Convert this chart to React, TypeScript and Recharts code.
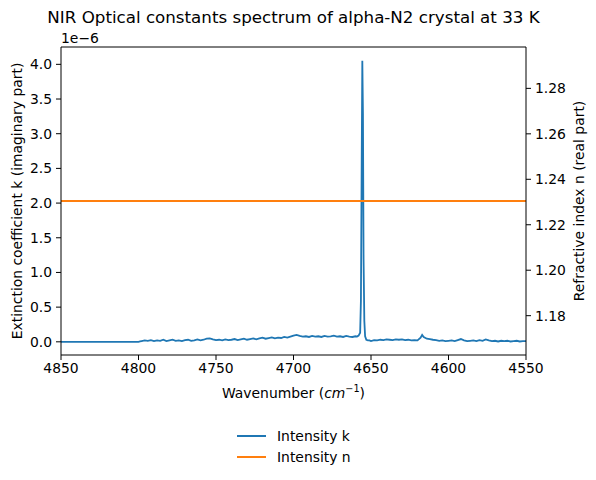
import React from 'react';
import { LineChart, Line, XAxis, YAxis, Legend, ReferenceLine } from 'recharts';

const FONT = '"DejaVu Sans", sans-serif';
const BLUE = '#1f77b4';
const ORANGE = '#ff7f0e';

const xTicks = [4850, 4800, 4750, 4700, 4650, 4600, 4550];
const kTicks = [0, 0.5, 1, 1.5, 2, 2.5, 3, 3.5, 4];
const nTicks = [1.18, 1.2, 1.22, 1.24, 1.26, 1.28];
const kDomain: [number, number] = [-0.19, 4.25];
const nDomain: [number, number] = [1.1627, 1.2982];

// [wavenumber, k (x1e-6)]
const kFlat: [number, number][] = [[4850, 0], [4800, 0], [4799, 0.005]];
const kBeforePeak: [number, number][] = [
  [4798, 0.01], [4796, 0.02], [4794, 0.015], [4792, 0.025], [4790, 0.01], [4788, 0.02],
  [4786, 0.015], [4784, 0.03], [4782, 0.01], [4780, 0.02], [4778, 0.03], [4776, 0.015],
  [4774, 0.02], [4772, 0.01], [4770, 0.025], [4768, 0.03], [4766, 0.015], [4764, 0.02],
  [4762, 0.035], [4760, 0.02], [4758, 0.03], [4756, 0.045], [4754, 0.05], [4752, 0.035],
  [4750, 0.025], [4748, 0.03], [4746, 0.02], [4744, 0.035], [4742, 0.025], [4740, 0.03],
  [4738, 0.04], [4736, 0.025], [4734, 0.035], [4732, 0.045], [4730, 0.03], [4728, 0.04],
  [4726, 0.05], [4724, 0.035], [4722, 0.05], [4720, 0.06], [4718, 0.045], [4716, 0.055],
  [4714, 0.065], [4712, 0.05], [4710, 0.06], [4708, 0.055], [4706, 0.07], [4704, 0.06],
  [4702, 0.075], [4700, 0.09], [4698, 0.1], [4696, 0.085], [4694, 0.075], [4692, 0.08],
  [4690, 0.07], [4688, 0.085], [4686, 0.075], [4684, 0.08], [4682, 0.07], [4680, 0.085],
  [4678, 0.075], [4676, 0.08], [4674, 0.09], [4672, 0.075], [4670, 0.08], [4668, 0.07],
  [4666, 0.085], [4664, 0.075], [4662, 0.07], [4660, 0.08], [4659, 0.075],
];
const kPeak: [number, number][] = [
  [4658, 0.09], [4657, 0.13], [4656.5, 0.6], [4656, 2.6], [4655.6, 4.05], [4655.2, 3.3],
  [4654.8, 1.2], [4654.3, 0.3], [4653.8, 0.08], [4653, 0.03],
];
const kAfterPeak: [number, number][] = [
  [4652, 0.02], [4651, 0.02], [4650, 0.01], [4648, 0.025], [4646, 0.02], [4644, 0.03],
  [4642, 0.025], [4640, 0.035], [4638, 0.03], [4636, 0.025], [4634, 0.035], [4632, 0.03],
  [4630, 0.035], [4628, 0.025], [4626, 0.03], [4624, 0.02], [4622, 0.025], [4620, 0.02],
  [4618, 0.06], [4617, 0.1], [4616, 0.07], [4614, 0.045], [4612, 0.04], [4610, 0.03],
  [4608, 0.025], [4606, 0.015], [4604, 0.02], [4602, 0.01], [4600, 0.015], [4598, 0.02],
  [4596, 0.01], [4594, 0.025], [4592, 0.04], [4590, 0.02], [4588, 0.01], [4586, 0.015],
  [4584, 0.02], [4582, 0.01], [4580, 0.025], [4578, 0.015], [4576, 0.035], [4574, 0.02],
  [4572, 0.01], [4570, 0.015], [4568, 0.005], [4566, 0.015], [4564, 0.01], [4562, 0.015],
  [4560, 0.005], [4558, 0.01], [4556, 0.015], [4554, 0.005], [4552, 0.01], [4550, 0.01],
];
// [wavenumber, n]
const nLevel: [number, number][] = [[4850, 1.2304], [4550, 1.2304]];

const kData = [...kFlat, ...kBeforePeak, ...kPeak, ...kAfterPeak].map(([x, k]) => ({ x, k }));
const nData = nLevel.map(([x, n]) => ({ x, n }));

const tickStyle = { fill: '#000', fontSize: 13.9, fontFamily: FONT };

const XLabel = () => (
  <text x={293.5} y={398} textAnchor="middle" fontSize={13.9} fontFamily={FONT} fill="#000">
    Wavenumber (<tspan fontStyle="italic">cm</tspan>
    <tspan dy={-6} fontSize={9.7}>−1</tspan>
    <tspan dy={6}>)</tspan>
  </text>
);

const LeftLabel = () => (
  <g>
    <text x={61} y={43} textAnchor="start" fontSize={13.9} fontFamily={FONT} fill="#000">1e−6</text>
    <text x={17} y={201} transform="rotate(-90 17 201)" textAnchor="middle" dominantBaseline="central"
      fontSize={13.9} fontFamily={FONT} fill="#000">
      Extinction coefficient k (imaginary part)
    </text>
  </g>
);

const RightLabel = () => (
  <text x={579} y={201} transform="rotate(-90 579 201)" textAnchor="middle" dominantBaseline="central"
    fontSize={13.9} fontFamily={FONT} fill="#000">
    Refractive index n (real part)
  </text>
);

const renderLegend = (props: any) => {
  const payload = props.payload || [];
  return (
    <svg width={140} height={44}>
      {payload.map((p: any, i: number) => (
        <g key={i}>
          <line x1={9} x2={38} y1={12 + i * 21} y2={12 + i * 21} stroke={p.color} strokeWidth={2} />
          <text x={49} y={12 + i * 21} dominantBaseline="central" fontSize={13.9} fontFamily={FONT} fill="#000">
            {p.value}
          </text>
        </g>
      ))}
    </svg>
  );
};

export default function App() {
  return (
    <div style={{ position: 'absolute', left: 0, top: 0, width: 596, height: 480, background: '#fff' }}>
      <div
        style={{
          position: 'absolute', left: 0, top: 7, width: 587, textAlign: 'center',
          fontFamily: FONT, fontSize: 16.7, color: '#000', lineHeight: '20px', whiteSpace: 'nowrap',
        }}
      >
        NIR Optical constants spectrum of alpha-N2 crystal at 33 K
      </div>
      <LineChart width={596} height={480} margin={{ top: 47, right: 0, bottom: 95, left: 0 }}>
        <XAxis
          type="number"
          dataKey="x"
          domain={[4550, 4850]}
          reversed
          ticks={xTicks}
          allowDataOverflow
          height={30}
          tickSize={5}
          tickMargin={3}
          tick={tickStyle}
          stroke="#000"
          axisLine={{ stroke: '#000', strokeWidth: 1 }}
          tickLine={{ stroke: '#000', strokeWidth: 1 }}
          label={{ content: XLabel }}
        />
        <YAxis
          yAxisId="k"
          orientation="left"
          type="number"
          domain={kDomain}
          ticks={kTicks}
          allowDataOverflow
          width={61}
          tickSize={5}
          tickMargin={4}
          tick={tickStyle}
          tickFormatter={(v: number) => v.toFixed(1)}
          axisLine={{ stroke: '#000', strokeWidth: 1 }}
          tickLine={{ stroke: '#000', strokeWidth: 1 }}
          label={{ content: LeftLabel }}
        />
        <YAxis
          yAxisId="n"
          orientation="right"
          type="number"
          domain={nDomain}
          ticks={nTicks}
          allowDataOverflow
          width={70}
          tickSize={5}
          tickMargin={4}
          tick={tickStyle}
          tickFormatter={(v: number) => v.toFixed(2)}
          axisLine={{ stroke: '#000', strokeWidth: 1 }}
          tickLine={{ stroke: '#000', strokeWidth: 1 }}
          label={{ content: RightLabel }}
        />
        <ReferenceLine yAxisId="k" y={kDomain[1]} stroke="#000" strokeWidth={1} ifOverflow="extendDomain" />
        <Line
          data={kData}
          yAxisId="k"
          dataKey="k"
          name="Intensity k"
          stroke={BLUE}
          strokeWidth={1.8}
          dot={false}
          activeDot={false}
          isAnimationActive={false}
        />
        <Line
          data={nData}
          yAxisId="n"
          dataKey="n"
          name="Intensity n"
          stroke={ORANGE}
          strokeWidth={2}
          dot={false}
          activeDot={false}
          isAnimationActive={false}
        />
        <Legend
          layout="horizontal"
          verticalAlign="middle"
          align="center"
          wrapperStyle={{ position: 'absolute', top: 424, left: 228, width: 140, height: 44 }}
          content={renderLegend}
        />
      </LineChart>
    </div>
  );
}
